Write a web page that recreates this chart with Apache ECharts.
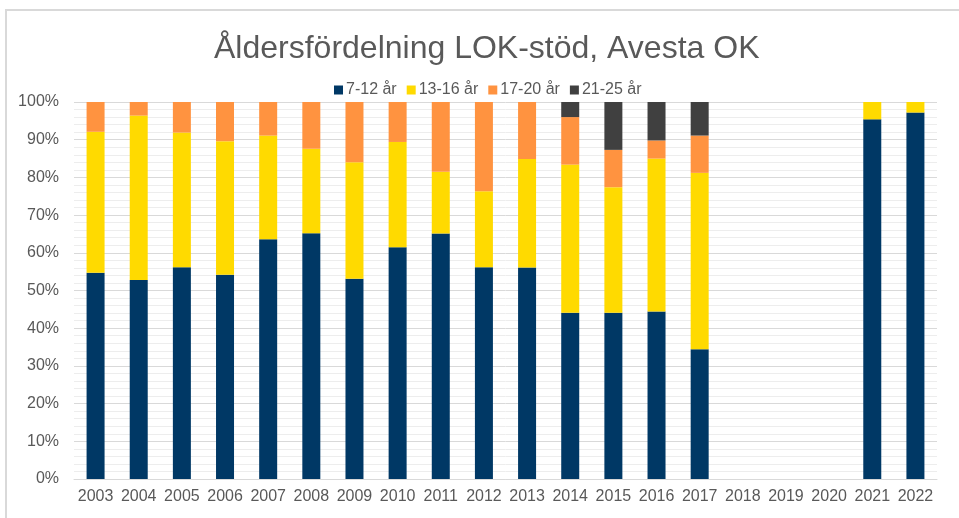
<!DOCTYPE html>
<html>
<head>
<meta charset="utf-8">
<script src="https://cdn.jsdelivr.net/npm/echarts@6/dist/echarts.min.js"></script>
<style>
  html, body { margin: 0; padding: 0; background: #fff; }
  #chart { width: 959px; height: 518px; }
</style>
</head>
<body>
<div id="chart"></div>
<script>
const years = ['2003', '2004', '2005', '2006', '2007', '2008', '2009', '2010', '2011', '2012',
  '2013', '2014', '2015', '2016', '2017', '2018', '2019', '2020', '2021', '2022'];

// share per age group, in percent
const age7to12 = [54.7, 52.8, 56.2, 54.2, 63.6, 65.2, 53.1, 61.5, 65.1, 56.2,
  56.1, 44.1, 44.1, 44.4, 34.4, null, null, null, 95.4, 97.2];
const age13to16 = [37.4, 43.6, 35.7, 35.4, 27.5, 22.4, 30.9, 27.9, 16.4, 20.1,
  28.8, 39.3, 33.3, 40.6, 46.8, null, null, null, 4.6, 2.8];
const age17to20 = [7.9, 3.6, 8.1, 10.4, 8.9, 12.4, 16.0, 10.6, 18.5, 23.7,
  15.1, 12.6, 9.9, 4.8, 9.9, null, null, null, null, null];
const age21to25 = [null, null, null, null, null, null, null, null, null, null,
  null, 4.0, 12.7, 10.2, 8.9, null, null, null, null, null];

const groups = [
  { name: '7-12 år', data: age7to12, color: '#003865' },
  { name: '13-16 år', data: age13to16, color: '#FFDA00' },
  { name: '17-20 år', data: age17to20, color: '#FF9340' },
  { name: '21-25 år', data: age21to25, color: '#404040' }
];

const font = '"Liberation Sans", Arial, sans-serif';
const textColor = '#595959';

const chart = echarts.init(document.getElementById('chart'));

chart.setOption({
  animation: false,
  textStyle: { fontFamily: font },
  title: {
    text: 'Åldersfördelning LOK-stöd, Avesta OK',
    left: 209,
    top: 28,
    textStyle: { fontFamily: font, fontSize: 32, fontWeight: 'normal', color: textColor }
  },
  legend: {
    top: 77,
    left: 329,
    itemWidth: 9,
    itemHeight: 9,
    itemGap: 10,
    icon: 'rect',
    textStyle: { fontFamily: font, fontSize: 16, color: textColor, padding: [0, 0, 0, -2] }
  },
  graphic: [{
    type: 'rect',
    shape: { x: 6, y: 10, width: 1000, height: 600 },
    style: { fill: 'none', stroke: '#d9d9d9', lineWidth: 2 },
    silent: true
  }],
  grid: { left: 74, right: 22, top: 102, bottom: 39 },
  xAxis: {
    type: 'category',
    data: years,
    axisLine: { lineStyle: { color: '#d9d9d9' } },
    axisTick: { show: false },
    axisLabel: { color: textColor, fontSize: 16, margin: 10, interval: 0 }
  },
  yAxis: {
    type: 'value',
    min: 0,
    max: 100,
    interval: 10,
    axisLine: { show: false },
    axisTick: { show: false },
    axisLabel: { color: textColor, fontSize: 16, margin: 15, formatter: '{value}%' },
    splitLine: { lineStyle: { color: '#d9d9d9', width: 1 } },
    minorTick: { show: false, splitNumber: 5 },
    minorSplitLine: { show: true, lineStyle: { color: '#ededed', width: 1 } }
  },
  series: groups.map(g => ({
    name: g.name,
    type: 'bar',
    stack: 'total',
    barWidth: 18,
    data: g.data,
    itemStyle: { color: g.color }
  }))
});
</script>
</body>
</html>
